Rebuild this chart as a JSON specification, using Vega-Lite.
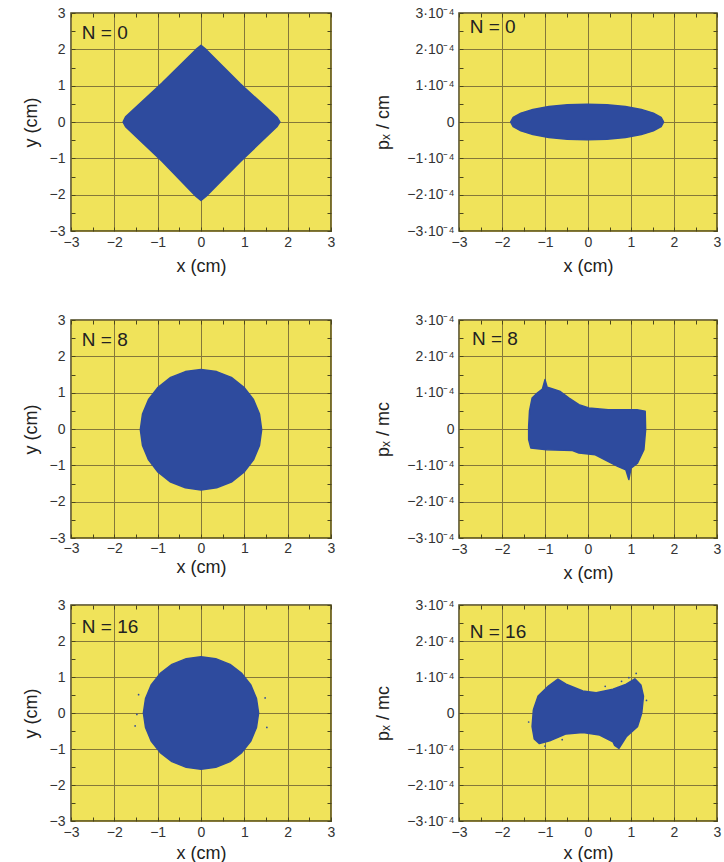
{
  "$schema": "https://vega.github.io/schema/vega-lite/v6.json",
  "padding": {"left": 21, "top": 5, "right": 0, "bottom": 0},
  "datasets": {
    "shapes": [
      {"panel": "a", "i": 0, "x": -1.80, "y": 0.00},
      {"panel": "a", "i": 1, "x": -1.74, "y": 0.14},
      {"panel": "a", "i": 2, "x": -0.90, "y": 1.07},
      {"panel": "a", "i": 3, "x": -0.12, "y": 1.99},
      {"panel": "a", "i": 4, "x": 0.00, "y": 2.11},
      {"panel": "a", "i": 5, "x": 0.12, "y": 1.99},
      {"panel": "a", "i": 6, "x": 0.90, "y": 1.06},
      {"panel": "a", "i": 7, "x": 1.76, "y": 0.12},
      {"panel": "a", "i": 8, "x": 1.82, "y": 0.00},
      {"panel": "a", "i": 9, "x": 1.75, "y": -0.13},
      {"panel": "a", "i": 10, "x": 0.90, "y": -1.10},
      {"panel": "a", "i": 11, "x": 0.12, "y": -2.04},
      {"panel": "a", "i": 12, "x": 0.00, "y": -2.16},
      {"panel": "a", "i": 13, "x": -0.12, "y": -2.04},
      {"panel": "a", "i": 14, "x": -0.90, "y": -1.08},
      {"panel": "a", "i": 15, "x": -1.74, "y": -0.13},
      {"panel": "a", "i": 16, "x": -1.80, "y": 0.00},

      {"panel": "b", "i": 0, "x": 1.76, "y": 0},
      {"panel": "b", "i": 1, "x": 1.70, "y": 1.27e-5},
      {"panel": "b", "i": 2, "x": 1.52, "y": 2.45e-5},
      {"panel": "b", "i": 3, "x": 1.24, "y": 3.46e-5},
      {"panel": "b", "i": 4, "x": 0.87, "y": 4.24e-5},
      {"panel": "b", "i": 5, "x": 0.44, "y": 4.73e-5},
      {"panel": "b", "i": 6, "x": -0.02, "y": 4.9e-5},
      {"panel": "b", "i": 7, "x": -0.48, "y": 4.73e-5},
      {"panel": "b", "i": 8, "x": -0.91, "y": 4.24e-5},
      {"panel": "b", "i": 9, "x": -1.28, "y": 3.46e-5},
      {"panel": "b", "i": 10, "x": -1.56, "y": 2.45e-5},
      {"panel": "b", "i": 11, "x": -1.74, "y": 1.27e-5},
      {"panel": "b", "i": 12, "x": -1.80, "y": 0},
      {"panel": "b", "i": 13, "x": -1.74, "y": -1.27e-5},
      {"panel": "b", "i": 14, "x": -1.56, "y": -2.45e-5},
      {"panel": "b", "i": 15, "x": -1.28, "y": -3.46e-5},
      {"panel": "b", "i": 16, "x": -0.91, "y": -4.24e-5},
      {"panel": "b", "i": 17, "x": -0.48, "y": -4.73e-5},
      {"panel": "b", "i": 18, "x": -0.02, "y": -4.9e-5},
      {"panel": "b", "i": 19, "x": 0.44, "y": -4.73e-5},
      {"panel": "b", "i": 20, "x": 0.87, "y": -4.24e-5},
      {"panel": "b", "i": 21, "x": 1.24, "y": -3.46e-5},
      {"panel": "b", "i": 22, "x": 1.52, "y": -2.45e-5},
      {"panel": "b", "i": 23, "x": 1.70, "y": -1.27e-5},
      {"panel": "b", "i": 24, "x": 1.76, "y": 0},

      {"panel": "c", "i": 0, "x": 1.40, "y": -0.02},
      {"panel": "c", "i": 1, "x": 1.35, "y": 0.41},
      {"panel": "c", "i": 2, "x": 1.21, "y": 0.81},
      {"panel": "c", "i": 3, "x": 0.99, "y": 1.15},
      {"panel": "c", "i": 4, "x": 0.70, "y": 1.42},
      {"panel": "c", "i": 5, "x": 0.36, "y": 1.58},
      {"panel": "c", "i": 6, "x": 0.00, "y": 1.64},
      {"panel": "c", "i": 7, "x": -0.36, "y": 1.58},
      {"panel": "c", "i": 8, "x": -0.70, "y": 1.42},
      {"panel": "c", "i": 9, "x": -0.99, "y": 1.15},
      {"panel": "c", "i": 10, "x": -1.21, "y": 0.81},
      {"panel": "c", "i": 11, "x": -1.35, "y": 0.41},
      {"panel": "c", "i": 12, "x": -1.40, "y": -0.02},
      {"panel": "c", "i": 13, "x": -1.35, "y": -0.45},
      {"panel": "c", "i": 14, "x": -1.21, "y": -0.85},
      {"panel": "c", "i": 15, "x": -0.99, "y": -1.19},
      {"panel": "c", "i": 16, "x": -0.70, "y": -1.46},
      {"panel": "c", "i": 17, "x": -0.36, "y": -1.62},
      {"panel": "c", "i": 18, "x": 0.00, "y": -1.68},
      {"panel": "c", "i": 19, "x": 0.36, "y": -1.62},
      {"panel": "c", "i": 20, "x": 0.70, "y": -1.46},
      {"panel": "c", "i": 21, "x": 0.99, "y": -1.19},
      {"panel": "c", "i": 22, "x": 1.21, "y": -0.85},
      {"panel": "c", "i": 23, "x": 1.35, "y": -0.45},
      {"panel": "c", "i": 24, "x": 1.40, "y": -0.02},

      {"panel": "d", "i": 0, "x": -1.38, "y": 0.07e-4},
      {"panel": "d", "i": 1, "x": -1.36, "y": 0.50e-4},
      {"panel": "d", "i": 2, "x": -1.30, "y": 0.85e-4},
      {"panel": "d", "i": 3, "x": -1.18, "y": 0.99e-4},
      {"panel": "d", "i": 4, "x": -1.06, "y": 1.10e-4},
      {"panel": "d", "i": 5, "x": -1.00, "y": 1.36e-4},
      {"panel": "d", "i": 6, "x": -0.95, "y": 1.15e-4},
      {"panel": "d", "i": 7, "x": -0.89, "y": 1.13e-4},
      {"panel": "d", "i": 8, "x": -0.66, "y": 1.04e-4},
      {"panel": "d", "i": 9, "x": -0.44, "y": 0.85e-4},
      {"panel": "d", "i": 10, "x": -0.21, "y": 0.67e-4},
      {"panel": "d", "i": 11, "x": 0.02, "y": 0.58e-4},
      {"panel": "d", "i": 12, "x": 0.47, "y": 0.53e-4},
      {"panel": "d", "i": 13, "x": 1.14, "y": 0.53e-4},
      {"panel": "d", "i": 14, "x": 1.33, "y": 0.49e-4},
      {"panel": "d", "i": 15, "x": 1.34, "y": -0.02e-4},
      {"panel": "d", "i": 16, "x": 1.30, "y": -0.57e-4},
      {"panel": "d", "i": 17, "x": 1.15, "y": -0.94e-4},
      {"panel": "d", "i": 18, "x": 1.00, "y": -1.08e-4},
      {"panel": "d", "i": 19, "x": 0.95, "y": -1.39e-4},
      {"panel": "d", "i": 20, "x": 0.88, "y": -1.12e-4},
      {"panel": "d", "i": 21, "x": 0.69, "y": -1.03e-4},
      {"panel": "d", "i": 22, "x": 0.17, "y": -0.71e-4},
      {"panel": "d", "i": 23, "x": -0.21, "y": -0.66e-4},
      {"panel": "d", "i": 24, "x": -0.36, "y": -0.59e-4},
      {"panel": "d", "i": 25, "x": -0.96, "y": -0.57e-4},
      {"panel": "d", "i": 26, "x": -1.33, "y": -0.52e-4},
      {"panel": "d", "i": 27, "x": -1.38, "y": -0.29e-4},
      {"panel": "d", "i": 28, "x": -1.38, "y": 0.07e-4},

      {"panel": "e", "i": 0, "x": 1.33, "y": 0.00},
      {"panel": "e", "i": 1, "x": 1.28, "y": 0.40},
      {"panel": "e", "i": 2, "x": 1.15, "y": 0.78},
      {"panel": "e", "i": 3, "x": 0.94, "y": 1.10},
      {"panel": "e", "i": 4, "x": 0.67, "y": 1.35},
      {"panel": "e", "i": 5, "x": 0.34, "y": 1.51},
      {"panel": "e", "i": 6, "x": 0.00, "y": 1.56},
      {"panel": "e", "i": 7, "x": -0.34, "y": 1.51},
      {"panel": "e", "i": 8, "x": -0.67, "y": 1.35},
      {"panel": "e", "i": 9, "x": -0.94, "y": 1.10},
      {"panel": "e", "i": 10, "x": -1.15, "y": 0.78},
      {"panel": "e", "i": 11, "x": -1.28, "y": 0.40},
      {"panel": "e", "i": 12, "x": -1.33, "y": 0.00},
      {"panel": "e", "i": 13, "x": -1.28, "y": -0.40},
      {"panel": "e", "i": 14, "x": -1.15, "y": -0.78},
      {"panel": "e", "i": 15, "x": -0.94, "y": -1.10},
      {"panel": "e", "i": 16, "x": -0.67, "y": -1.35},
      {"panel": "e", "i": 17, "x": -0.34, "y": -1.51},
      {"panel": "e", "i": 18, "x": 0.00, "y": -1.56},
      {"panel": "e", "i": 19, "x": 0.34, "y": -1.51},
      {"panel": "e", "i": 20, "x": 0.67, "y": -1.35},
      {"panel": "e", "i": 21, "x": 0.94, "y": -1.10},
      {"panel": "e", "i": 22, "x": 1.15, "y": -0.78},
      {"panel": "e", "i": 23, "x": 1.28, "y": -0.40},
      {"panel": "e", "i": 24, "x": 1.33, "y": 0.00},

      {"panel": "f", "i": 0, "x": -1.27, "y": 0.09e-4},
      {"panel": "f", "i": 1, "x": -1.16, "y": 0.47e-4},
      {"panel": "f", "i": 2, "x": -0.92, "y": 0.75e-4},
      {"panel": "f", "i": 3, "x": -0.70, "y": 0.94e-4},
      {"panel": "f", "i": 4, "x": -0.51, "y": 0.80e-4},
      {"panel": "f", "i": 5, "x": -0.12, "y": 0.61e-4},
      {"panel": "f", "i": 6, "x": 0.19, "y": 0.56e-4},
      {"panel": "f", "i": 7, "x": 0.58, "y": 0.66e-4},
      {"panel": "f", "i": 8, "x": 0.89, "y": 0.80e-4},
      {"panel": "f", "i": 9, "x": 1.09, "y": 0.95e-4},
      {"panel": "f", "i": 10, "x": 1.23, "y": 0.78e-4},
      {"panel": "f", "i": 11, "x": 1.29, "y": 0.47e-4},
      {"panel": "f", "i": 12, "x": 1.25, "y": 0.00},
      {"panel": "f", "i": 13, "x": 1.15, "y": -0.38e-4},
      {"panel": "f", "i": 14, "x": 0.89, "y": -0.66e-4},
      {"panel": "f", "i": 15, "x": 0.72, "y": -0.98e-4},
      {"panel": "f", "i": 16, "x": 0.62, "y": -0.90e-4},
      {"panel": "f", "i": 17, "x": 0.58, "y": -0.80e-4},
      {"panel": "f", "i": 18, "x": 0.27, "y": -0.61e-4},
      {"panel": "f", "i": 19, "x": -0.12, "y": -0.54e-4},
      {"panel": "f", "i": 20, "x": -0.51, "y": -0.58e-4},
      {"panel": "f", "i": 21, "x": -0.89, "y": -0.77e-4},
      {"panel": "f", "i": 22, "x": -1.13, "y": -0.85e-4},
      {"panel": "f", "i": 23, "x": -1.25, "y": -0.72e-4},
      {"panel": "f", "i": 24, "x": -1.30, "y": -0.38e-4},
      {"panel": "f", "i": 25, "x": -1.27, "y": 0.09e-4}
    ],
    "dots": [
      {"panel": "e", "x": -1.44, "y": 0.51},
      {"panel": "e", "x": -1.48, "y": -0.04},
      {"panel": "e", "x": -1.52, "y": -0.36},
      {"panel": "e", "x": 1.48, "y": 0.42},
      {"panel": "e", "x": 1.52, "y": -0.40},
      {"panel": "f", "x": 1.12, "y": 1.10e-4},
      {"panel": "f", "x": 0.95, "y": 0.98e-4},
      {"panel": "f", "x": 1.36, "y": 0.35e-4},
      {"panel": "f", "x": -1.38, "y": -0.25e-4},
      {"panel": "f", "x": -1.00, "y": -0.92e-4},
      {"panel": "f", "x": -0.60, "y": -0.74e-4},
      {"panel": "f", "x": 0.40, "y": 0.74e-4},
      {"panel": "f", "x": 0.78, "y": 0.88e-4}
    ],
    "labels": [
      {"panel": "a", "x": -2.75, "y": 2.45, "text": "N = 0"},
      {"panel": "b", "x": -2.75, "y": 2.62e-4, "text": "N = 0"},
      {"panel": "c", "x": -2.75, "y": 2.45, "text": "N = 8"},
      {"panel": "d", "x": -2.70, "y": 2.48e-4, "text": "N = 8"},
      {"panel": "e", "x": -2.75, "y": 2.40, "text": "N = 16"},
      {"panel": "f", "x": -2.75, "y": 2.25e-4, "text": "N = 16"}
    ]
  },
  "spacing": 36,
  "vconcat": [
    {
      "spacing": 38,
      "hconcat": [
        {
          "width": 260, "height": 218,
          "resolve": {"axis": {"x": "independent", "y": "independent"}},
          "layer": [
            {
              "data": {"name": "shapes"},
              "transform": [{"filter": "datum.panel == 'a'"}],
              "mark": {"type": "line", "fill": "#2e4b9e", "stroke": "#2e4b9e", "strokeWidth": 1.5, "strokeJoin": "round"},
              "encoding": {
                "x": {"field": "x", "type": "quantitative", "scale": {"domain": [-3, 3], "nice": false, "zero": false},
                  "axis": {"orient": "bottom", "title": "x (cm)", "values": [-3,-2.5,-2,-1.5,-1,-0.5,0,0.5,1,1.5,2,2.5,3], "labelExpr": "datum.value % 1 != 0 ? '' : (datum.value < 0 ? '−' + abs(datum.value) : '' + datum.value)", "grid": true, "gridOpacity": {"condition": {"test": "datum.value % 1 != 0", "value": 0}, "value": 1}, "tickSize": -4, "labelPadding": 8, "titlePadding": 8}},
                "y": {"field": "y", "type": "quantitative", "scale": {"domain": [-3, 3], "nice": false, "zero": false},
                  "axis": {"orient": "left", "title": "y (cm)", "values": [-3,-2.5,-2,-1.5,-1,-0.5,0,0.5,1,1.5,2,2.5,3], "labelExpr": "datum.value % 1 != 0 ? '' : (datum.value < 0 ? '−' + abs(datum.value) : '' + datum.value)", "grid": true, "gridOpacity": {"condition": {"test": "datum.value % 1 != 0", "value": 0}, "value": 1}, "tickSize": -4, "labelPadding": 10, "titlePadding": 9}},
                "order": {"field": "i", "type": "quantitative"}
              }
            },
            {
              "data": {"name": "labels"},
              "transform": [{"filter": "datum.panel == 'a'"}],
              "mark": {"type": "text", "align": "left", "baseline": "middle", "fontSize": 19, "font": "Liberation Sans", "color": "#222"},
              "encoding": {
                "x": {"field": "x", "type": "quantitative", "axis": {"orient": "top", "labels": false, "title": null, "grid": false, "domain": false, "tickSize": -4, "values": [-3,-2.5,-2,-1.5,-1,-0.5,0,0.5,1,1.5,2,2.5,3]}},
                "y": {"field": "y", "type": "quantitative", "axis": {"orient": "right", "labels": false, "title": null, "grid": false, "domain": false, "tickSize": -4, "values": [-3,-2.5,-2,-1.5,-1,-0.5,0,0.5,1,1.5,2,2.5,3]}},
                "text": {"field": "text"}
              }
            }
          ]
        },
        {
          "width": 258, "height": 218,
          "resolve": {"axis": {"x": "independent", "y": "independent"}},
          "layer": [
            {
              "data": {"name": "shapes"},
              "transform": [{"filter": "datum.panel == 'b'"}],
              "mark": {"type": "line", "fill": "#2e4b9e", "stroke": "#2e4b9e", "strokeWidth": 1.5, "strokeJoin": "round"},
              "encoding": {
                "x": {"field": "x", "type": "quantitative", "scale": {"domain": [-3, 3], "nice": false, "zero": false},
                  "axis": {"orient": "bottom", "title": "x (cm)", "values": [-3,-2.5,-2,-1.5,-1,-0.5,0,0.5,1,1.5,2,2.5,3], "labelExpr": "datum.value % 1 != 0 ? '' : (datum.value < 0 ? '−' + abs(datum.value) : '' + datum.value)", "grid": true, "gridOpacity": {"condition": {"test": "datum.value % 1 != 0", "value": 0}, "value": 1}, "tickSize": -4, "labelPadding": 8, "titlePadding": 8}},
                "y": {"field": "y", "type": "quantitative", "scale": {"domain": [-3e-4, 3e-4], "nice": false, "zero": false},
                  "axis": {"orient": "left", "title": "pₓ / cm", "values": [-3e-4,-2.5e-4,-2e-4,-1.5e-4,-1e-4,-0.5e-4,0,0.5e-4,1e-4,1.5e-4,2e-4,2.5e-4,3e-4], "labelExpr": "round(datum.value*2e4) % 2 != 0 ? '' : (round(datum.value*1e4) == 0 ? '0' : (datum.value < 0 ? '−' : '') + round(abs(datum.value)*1e4) + '·10⁻⁴')", "grid": true, "gridOpacity": {"condition": {"test": "round(datum.value*2e4) % 2 != 0", "value": 0}, "value": 1}, "tickSize": -4, "labelPadding": 9, "titlePadding": 14}},
                "order": {"field": "i", "type": "quantitative"}
              }
            },
            {
              "data": {"name": "labels"},
              "transform": [{"filter": "datum.panel == 'b'"}],
              "mark": {"type": "text", "align": "left", "baseline": "middle", "fontSize": 19, "font": "Liberation Sans", "color": "#222"},
              "encoding": {
                "x": {"field": "x", "type": "quantitative", "axis": {"orient": "top", "labels": false, "title": null, "grid": false, "domain": false, "tickSize": -4, "values": [-3,-2.5,-2,-1.5,-1,-0.5,0,0.5,1,1.5,2,2.5,3]}},
                "y": {"field": "y", "type": "quantitative", "axis": {"orient": "right", "labels": false, "title": null, "grid": false, "domain": false, "tickSize": -4, "values": [-3e-4,-2.5e-4,-2e-4,-1.5e-4,-1e-4,-0.5e-4,0,0.5e-4,1e-4,1.5e-4,2e-4,2.5e-4,3e-4]}},
                "text": {"field": "text"}
              }
            }
          ]
        }
      ]
    },
    {
      "spacing": 14,
      "vconcat": [
        {
          "spacing": 38,
          "hconcat": [
            {
              "width": 260, "height": 218,
              "resolve": {"axis": {"x": "independent", "y": "independent"}},
              "layer": [
                {
                  "data": {"name": "shapes"},
                  "transform": [{"filter": "datum.panel == 'c'"}],
                  "mark": {"type": "line", "fill": "#2e4b9e", "stroke": "#2e4b9e", "strokeWidth": 1.5, "strokeJoin": "round"},
                  "encoding": {
                    "x": {"field": "x", "type": "quantitative", "scale": {"domain": [-3, 3], "nice": false, "zero": false},
                      "axis": {"orient": "bottom", "title": "x (cm)", "values": [-3,-2.5,-2,-1.5,-1,-0.5,0,0.5,1,1.5,2,2.5,3], "labelExpr": "datum.value % 1 != 0 ? '' : (datum.value < 0 ? '−' + abs(datum.value) : '' + datum.value)", "grid": true, "gridOpacity": {"condition": {"test": "datum.value % 1 != 0", "value": 0}, "value": 1}, "tickSize": -4, "labelPadding": 7, "titlePadding": 3}},
                    "y": {"field": "y", "type": "quantitative", "scale": {"domain": [-3, 3], "nice": false, "zero": false},
                      "axis": {"orient": "left", "title": "y (cm)", "values": [-3,-2.5,-2,-1.5,-1,-0.5,0,0.5,1,1.5,2,2.5,3], "labelExpr": "datum.value % 1 != 0 ? '' : (datum.value < 0 ? '−' + abs(datum.value) : '' + datum.value)", "grid": true, "gridOpacity": {"condition": {"test": "datum.value % 1 != 0", "value": 0}, "value": 1}, "tickSize": -4, "labelPadding": 10, "titlePadding": 9}},
                    "order": {"field": "i", "type": "quantitative"}
                  }
                },
                {
                  "data": {"name": "labels"},
                  "transform": [{"filter": "datum.panel == 'c'"}],
                  "mark": {"type": "text", "align": "left", "baseline": "middle", "fontSize": 19, "font": "Liberation Sans", "color": "#222"},
                  "encoding": {
                    "x": {"field": "x", "type": "quantitative", "axis": {"orient": "top", "labels": false, "title": null, "grid": false, "domain": false, "tickSize": -4, "values": [-3,-2.5,-2,-1.5,-1,-0.5,0,0.5,1,1.5,2,2.5,3]}},
                    "y": {"field": "y", "type": "quantitative", "axis": {"orient": "right", "labels": false, "title": null, "grid": false, "domain": false, "tickSize": -4, "values": [-3,-2.5,-2,-1.5,-1,-0.5,0,0.5,1,1.5,2,2.5,3]}},
                    "text": {"field": "text"}
                  }
                }
              ]
            },
            {
              "width": 258, "height": 218,
              "resolve": {"axis": {"x": "independent", "y": "independent"}},
              "layer": [
                {
                  "data": {"name": "shapes"},
                  "transform": [{"filter": "datum.panel == 'd'"}],
                  "mark": {"type": "line", "fill": "#2e4b9e", "stroke": "#2e4b9e", "strokeWidth": 1.5, "strokeJoin": "round"},
                  "encoding": {
                    "x": {"field": "x", "type": "quantitative", "scale": {"domain": [-3, 3], "nice": false, "zero": false},
                      "axis": {"orient": "bottom", "title": "x (cm)", "values": [-3,-2.5,-2,-1.5,-1,-0.5,0,0.5,1,1.5,2,2.5,3], "labelExpr": "datum.value % 1 != 0 ? '' : (datum.value < 0 ? '−' + abs(datum.value) : '' + datum.value)", "grid": true, "gridOpacity": {"condition": {"test": "datum.value % 1 != 0", "value": 0}, "value": 1}, "tickSize": -4, "labelPadding": 8, "titlePadding": 8}},
                    "y": {"field": "y", "type": "quantitative", "scale": {"domain": [-3e-4, 3e-4], "nice": false, "zero": false},
                      "axis": {"orient": "left", "title": "pₓ / mc", "values": [-3e-4,-2.5e-4,-2e-4,-1.5e-4,-1e-4,-0.5e-4,0,0.5e-4,1e-4,1.5e-4,2e-4,2.5e-4,3e-4], "labelExpr": "round(datum.value*2e4) % 2 != 0 ? '' : (round(datum.value*1e4) == 0 ? '0' : (datum.value < 0 ? '−' : '') + round(abs(datum.value)*1e4) + '·10⁻⁴')", "grid": true, "gridOpacity": {"condition": {"test": "round(datum.value*2e4) % 2 != 0", "value": 0}, "value": 1}, "tickSize": -4, "labelPadding": 9, "titlePadding": 14}},
                    "order": {"field": "i", "type": "quantitative"}
                  }
                },
                {
                  "data": {"name": "labels"},
                  "transform": [{"filter": "datum.panel == 'd'"}],
                  "mark": {"type": "text", "align": "left", "baseline": "middle", "fontSize": 19, "font": "Liberation Sans", "color": "#222"},
                  "encoding": {
                    "x": {"field": "x", "type": "quantitative", "axis": {"orient": "top", "labels": false, "title": null, "grid": false, "domain": false, "tickSize": -4, "values": [-3,-2.5,-2,-1.5,-1,-0.5,0,0.5,1,1.5,2,2.5,3]}},
                    "y": {"field": "y", "type": "quantitative", "axis": {"orient": "right", "labels": false, "title": null, "grid": false, "domain": false, "tickSize": -4, "values": [-3e-4,-2.5e-4,-2e-4,-1.5e-4,-1e-4,-0.5e-4,0,0.5e-4,1e-4,1.5e-4,2e-4,2.5e-4,3e-4]}},
                    "text": {"field": "text"}
                  }
                }
              ]
            }
          ]
        },
        {
          "spacing": 38,
          "hconcat": [
            {
              "width": 260, "height": 216,
              "resolve": {"axis": {"x": "independent", "y": "independent"}},
              "layer": [
                {
                  "data": {"name": "shapes"},
                  "transform": [{"filter": "datum.panel == 'e'"}],
                  "mark": {"type": "line", "fill": "#2e4b9e", "stroke": "#2e4b9e", "strokeWidth": 1.5, "strokeJoin": "round"},
                  "encoding": {
                    "x": {"field": "x", "type": "quantitative", "scale": {"domain": [-3, 3], "nice": false, "zero": false},
                      "axis": {"orient": "bottom", "title": "x (cm)", "values": [-3,-2.5,-2,-1.5,-1,-0.5,0,0.5,1,1.5,2,2.5,3], "labelExpr": "datum.value % 1 != 0 ? '' : (datum.value < 0 ? '−' + abs(datum.value) : '' + datum.value)", "grid": true, "gridOpacity": {"condition": {"test": "datum.value % 1 != 0", "value": 0}, "value": 1}, "tickSize": -4, "labelPadding": 8, "titlePadding": 5}},
                    "y": {"field": "y", "type": "quantitative", "scale": {"domain": [-3, 3], "nice": false, "zero": false},
                      "axis": {"orient": "left", "title": "y (cm)", "values": [-3,-2.5,-2,-1.5,-1,-0.5,0,0.5,1,1.5,2,2.5,3], "labelExpr": "datum.value % 1 != 0 ? '' : (datum.value < 0 ? '−' + abs(datum.value) : '' + datum.value)", "grid": true, "gridOpacity": {"condition": {"test": "datum.value % 1 != 0", "value": 0}, "value": 1}, "tickSize": -4, "labelPadding": 10, "titlePadding": 9}},
                    "order": {"field": "i", "type": "quantitative"}
                  }
                },
                {
                  "data": {"name": "labels"},
                  "transform": [{"filter": "datum.panel == 'e'"}],
                  "mark": {"type": "text", "align": "left", "baseline": "middle", "fontSize": 19, "font": "Liberation Sans", "color": "#222"},
                  "encoding": {
                    "x": {"field": "x", "type": "quantitative", "axis": {"orient": "top", "labels": false, "title": null, "grid": false, "domain": false, "tickSize": -4, "values": [-3,-2.5,-2,-1.5,-1,-0.5,0,0.5,1,1.5,2,2.5,3]}},
                    "y": {"field": "y", "type": "quantitative", "axis": {"orient": "right", "labels": false, "title": null, "grid": false, "domain": false, "tickSize": -4, "values": [-3,-2.5,-2,-1.5,-1,-0.5,0,0.5,1,1.5,2,2.5,3]}},
                    "text": {"field": "text"}
                  }
                },
                {
                  "data": {"name": "dots"},
                  "transform": [{"filter": "datum.panel == 'e'"}],
                  "mark": {"type": "circle", "size": 3, "color": "#2e4b9e", "opacity": 1},
                  "encoding": {
                    "x": {"field": "x", "type": "quantitative", "axis": null},
                    "y": {"field": "y", "type": "quantitative", "axis": null}
                  }
                }
              ]
            },
            {
              "width": 258, "height": 216,
              "resolve": {"axis": {"x": "independent", "y": "independent"}},
              "layer": [
                {
                  "data": {"name": "shapes"},
                  "transform": [{"filter": "datum.panel == 'f'"}],
                  "mark": {"type": "line", "fill": "#2e4b9e", "stroke": "#2e4b9e", "strokeWidth": 1.5, "strokeJoin": "round"},
                  "encoding": {
                    "x": {"field": "x", "type": "quantitative", "scale": {"domain": [-3, 3], "nice": false, "zero": false},
                      "axis": {"orient": "bottom", "title": "x (cm)", "values": [-3,-2.5,-2,-1.5,-1,-0.5,0,0.5,1,1.5,2,2.5,3], "labelExpr": "datum.value % 1 != 0 ? '' : (datum.value < 0 ? '−' + abs(datum.value) : '' + datum.value)", "grid": true, "gridOpacity": {"condition": {"test": "datum.value % 1 != 0", "value": 0}, "value": 1}, "tickSize": -4, "labelPadding": 8, "titlePadding": 5}},
                    "y": {"field": "y", "type": "quantitative", "scale": {"domain": [-3e-4, 3e-4], "nice": false, "zero": false},
                      "axis": {"orient": "left", "title": "pₓ / mc", "values": [-3e-4,-2.5e-4,-2e-4,-1.5e-4,-1e-4,-0.5e-4,0,0.5e-4,1e-4,1.5e-4,2e-4,2.5e-4,3e-4], "labelExpr": "round(datum.value*2e4) % 2 != 0 ? '' : (round(datum.value*1e4) == 0 ? '0' : (datum.value < 0 ? '−' : '') + round(abs(datum.value)*1e4) + '·10⁻⁴')", "grid": true, "gridOpacity": {"condition": {"test": "round(datum.value*2e4) % 2 != 0", "value": 0}, "value": 1}, "tickSize": -4, "labelPadding": 9, "titlePadding": 14}},
                    "order": {"field": "i", "type": "quantitative"}
                  }
                },
                {
                  "data": {"name": "labels"},
                  "transform": [{"filter": "datum.panel == 'f'"}],
                  "mark": {"type": "text", "align": "left", "baseline": "middle", "fontSize": 19, "font": "Liberation Sans", "color": "#222"},
                  "encoding": {
                    "x": {"field": "x", "type": "quantitative", "axis": {"orient": "top", "labels": false, "title": null, "grid": false, "domain": false, "tickSize": -4, "values": [-3,-2.5,-2,-1.5,-1,-0.5,0,0.5,1,1.5,2,2.5,3]}},
                    "y": {"field": "y", "type": "quantitative", "axis": {"orient": "right", "labels": false, "title": null, "grid": false, "domain": false, "tickSize": -4, "values": [-3e-4,-2.5e-4,-2e-4,-1.5e-4,-1e-4,-0.5e-4,0,0.5e-4,1e-4,1.5e-4,2e-4,2.5e-4,3e-4]}},
                    "text": {"field": "text"}
                  }
                },
                {
                  "data": {"name": "dots"},
                  "transform": [{"filter": "datum.panel == 'f'"}],
                  "mark": {"type": "circle", "size": 3, "color": "#2e4b9e", "opacity": 1},
                  "encoding": {
                    "x": {"field": "x", "type": "quantitative", "axis": null},
                    "y": {"field": "y", "type": "quantitative", "axis": null}
                  }
                }
              ]
            }
          ]
        }
      ]
    }
  ],
  "config": {
    "background": "white",
    "view": {"fill": "#f0e35a", "stroke": "#4a451c", "strokeWidth": 1.5},
    "axis": {
      "labelFont": "Liberation Sans", "labelFontSize": 14, "labelColor": "#333333",
      "titleFont": "Liberation Sans", "titleFontSize": 18, "titleFontWeight": "normal", "titleColor": "#222222",
      "gridColor": "#85783a", "gridWidth": 1, "tickColor": "#4a451c", "tickWidth": 1,
      "domain": false, "labelFlush": false, "labelOverlap": false, "labelBound": false
    }
  }
}
